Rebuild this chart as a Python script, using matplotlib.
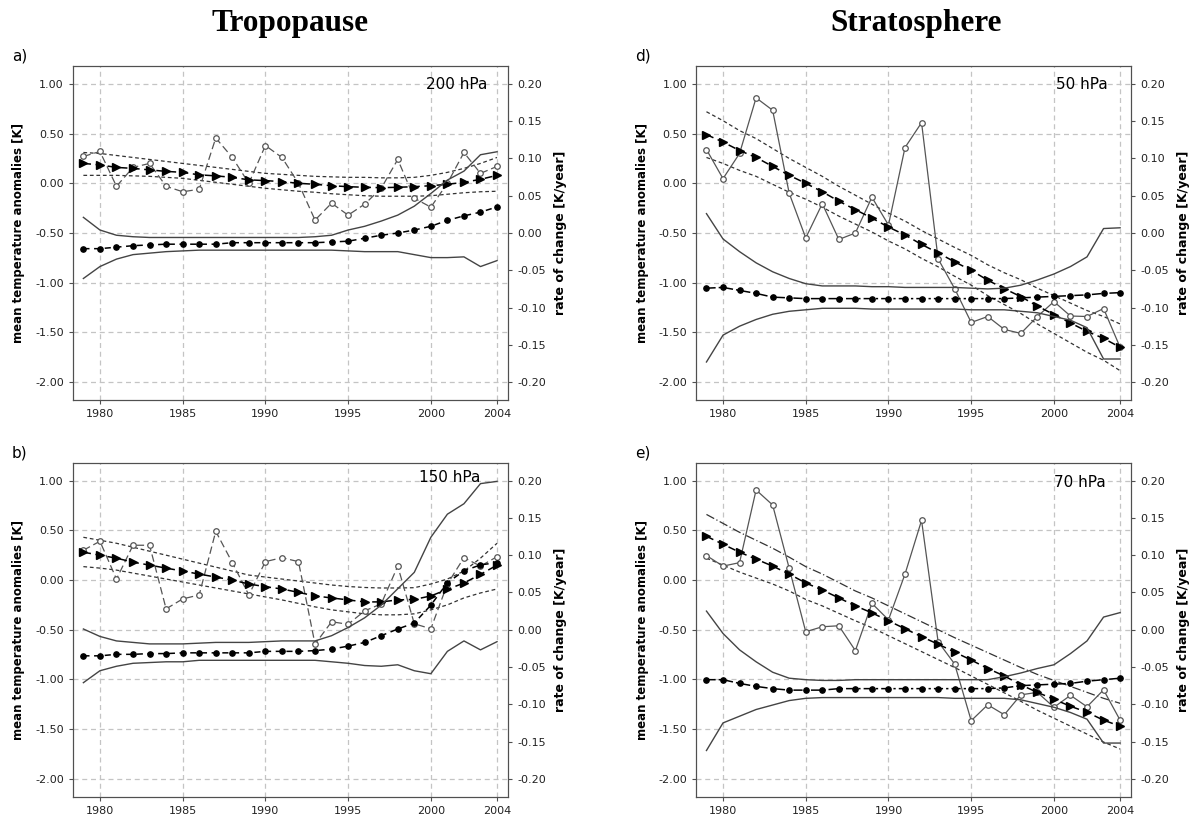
import matplotlib
matplotlib.use("Agg")
import matplotlib.pyplot as plt

plt.rcParams["font.family"] = ["DejaVu Sans"]
plt.rcParams["axes.unicode_minus"] = False

# ── Data ─────────────────────────────────────────────────────
YEARS = list(range(1979, 2005))

# a) 200 hPa
a_anom = [0.27, 0.32, -0.03, 0.16, 0.20, -0.03, -0.085, -0.06, 0.456, 0.26, 0.0, 0.38, 0.26,
          0.0, -0.37, -0.20, -0.32, -0.21, -0.05, 0.24, -0.15, -0.24, 0.0, 0.31, 0.10, 0.17]
a_trend = [0.20, 0.185, 0.16, 0.15, 0.135, 0.12, 0.11, 0.085, 0.075, 0.06, 0.035, 0.027, 0.017,
           0.0, -0.01, -0.024, -0.034, -0.04, -0.044, -0.04, -0.034, -0.024, -0.01, 0.01, 0.04, 0.08]
a_trend_hi = [0.31, 0.30, 0.28, 0.26, 0.24, 0.22, 0.20, 0.18, 0.16, 0.14, 0.12, 0.10, 0.09,
              0.08, 0.07, 0.065, 0.06, 0.06, 0.055, 0.055, 0.06, 0.08, 0.11, 0.15, 0.20, 0.26]
a_trend_lo = [0.08, 0.08, 0.08, 0.075, 0.07, 0.06, 0.05, 0.03, 0.01, -0.01, -0.03, -0.05, -0.065,
              -0.08, -0.09, -0.105, -0.115, -0.125, -0.13, -0.13, -0.13, -0.125, -0.11, -0.095, -0.085, -0.08]
a_rate = [-0.021, -0.021, -0.019, -0.017, -0.016, -0.015, -0.015, -0.015, -0.015, -0.013, -0.013, -0.013, -0.013,
          -0.013, -0.013, -0.012, -0.011, -0.007, -0.003, 0.000, 0.004, 0.009, 0.017, 0.023, 0.028, 0.035]
a_rate_hi = [0.021, 0.004, -0.003, -0.005, -0.006, -0.006, -0.006, -0.006, -0.006, -0.006, -0.006, -0.006, -0.006,
             -0.006, -0.005, -0.003, 0.004, 0.009, 0.016, 0.024, 0.036, 0.053, 0.071, 0.083, 0.105, 0.109]
a_rate_lo = [-0.061, -0.045, -0.035, -0.029, -0.027, -0.025, -0.024, -0.023, -0.023, -0.023, -0.023, -0.023, -0.023,
             -0.023, -0.023, -0.023, -0.024, -0.025, -0.025, -0.025, -0.029, -0.033, -0.033, -0.032, -0.045, -0.037]

# b) 150 hPa
b_anom = [0.30, 0.39, 0.01, 0.35, 0.35, -0.29, -0.19, -0.15, 0.49, 0.175, -0.15, 0.185, 0.225,
          0.185, -0.645, -0.42, -0.445, -0.31, -0.24, 0.14, -0.44, -0.49, -0.04, 0.225, 0.14, 0.235]
b_trend = [0.28, 0.25, 0.22, 0.18, 0.15, 0.12, 0.09, 0.06, 0.03, 0.0, -0.04, -0.067, -0.09,
           -0.124, -0.16, -0.18, -0.20, -0.22, -0.22, -0.20, -0.195, -0.16, -0.094, -0.03, 0.057, 0.15]
b_trend_hi = [0.43, 0.40, 0.37, 0.33, 0.29, 0.25, 0.21, 0.17, 0.13, 0.09, 0.05, 0.03, 0.01,
              -0.01, -0.03, -0.05, -0.065, -0.075, -0.08, -0.08, -0.077, -0.04, 0.01, 0.09, 0.22, 0.37]
b_trend_lo = [0.135, 0.12, 0.10, 0.07, 0.04, 0.01, -0.02, -0.05, -0.08, -0.11, -0.14, -0.17, -0.20,
              -0.235, -0.27, -0.30, -0.32, -0.34, -0.35, -0.35, -0.34, -0.30, -0.25, -0.18, -0.13, -0.09]
b_rate = [-0.035, -0.035, -0.033, -0.033, -0.032, -0.032, -0.031, -0.031, -0.031, -0.031, -0.031, -0.029, -0.029,
          -0.029, -0.028, -0.026, -0.022, -0.017, -0.008, 0.001, 0.009, 0.033, 0.063, 0.079, 0.087, 0.090]
b_rate_hi = [0.001, -0.009, -0.015, -0.017, -0.019, -0.019, -0.019, -0.018, -0.017, -0.017, -0.017, -0.016, -0.015,
             -0.015, -0.015, -0.008, 0.003, 0.016, 0.033, 0.055, 0.077, 0.124, 0.155, 0.169, 0.196, 0.199]
b_rate_lo = [-0.071, -0.055, -0.049, -0.045, -0.044, -0.043, -0.043, -0.041, -0.041, -0.041, -0.041, -0.041, -0.041,
             -0.041, -0.041, -0.043, -0.045, -0.048, -0.049, -0.047, -0.055, -0.059, -0.029, -0.015, -0.027, -0.016]

# d) 50 hPa
d_anom = [0.34, 0.047, 0.30, 0.86, 0.735, -0.10, -0.55, -0.205, -0.565, -0.50, -0.14, -0.42, 0.36,
          0.61, -0.76, -1.06, -1.40, -1.34, -1.47, -1.51, -1.34, -1.19, -1.335, -1.34, -1.26, -1.65]
d_trend = [0.49, 0.415, 0.33, 0.26, 0.17, 0.08, 0.0, -0.085, -0.18, -0.265, -0.35, -0.44, -0.52,
           -0.615, -0.70, -0.79, -0.875, -0.975, -1.06, -1.14, -1.235, -1.32, -1.405, -1.49, -1.56, -1.65]
d_trend_hi = [0.72, 0.63, 0.53, 0.45, 0.35, 0.25, 0.16, 0.07, -0.03, -0.12, -0.21, -0.30, -0.38,
              -0.475, -0.56, -0.645, -0.725, -0.82, -0.90, -0.97, -1.055, -1.13, -1.205, -1.28, -1.34, -1.415]
d_trend_lo = [0.26, 0.20, 0.13, 0.07, -0.01, -0.09, -0.16, -0.24, -0.33, -0.41, -0.49, -0.58, -0.66,
              -0.755, -0.84, -0.935, -1.025, -1.13, -1.22, -1.31, -1.415, -1.51, -1.605, -1.70, -1.78, -1.885]
d_rate = [-0.074, -0.073, -0.077, -0.081, -0.086, -0.087, -0.088, -0.088, -0.088, -0.088, -0.088, -0.088, -0.088,
          -0.088, -0.088, -0.088, -0.088, -0.088, -0.088, -0.087, -0.086, -0.085, -0.084, -0.083, -0.081, -0.080]
d_rate_hi = [0.026, -0.008, -0.025, -0.040, -0.052, -0.061, -0.068, -0.071, -0.071, -0.071, -0.072, -0.072, -0.073,
             -0.073, -0.073, -0.073, -0.074, -0.075, -0.074, -0.070, -0.063, -0.055, -0.045, -0.032, 0.006, 0.007]
d_rate_lo = [-0.173, -0.137, -0.125, -0.116, -0.109, -0.105, -0.103, -0.101, -0.101, -0.101, -0.102, -0.102, -0.102,
             -0.102, -0.102, -0.102, -0.103, -0.103, -0.103, -0.105, -0.107, -0.112, -0.117, -0.127, -0.169, -0.169]

# e) 70 hPa
e_anom = [0.246, 0.14, 0.175, 0.906, 0.755, 0.118, -0.52, -0.47, -0.46, -0.71, -0.235, -0.40, 0.06,
          0.60, -0.62, -0.845, -1.415, -1.255, -1.355, -1.155, -1.13, -1.28, -1.16, -1.275, -1.105, -1.41]
e_trend = [0.44, 0.36, 0.28, 0.21, 0.14, 0.06, -0.03, -0.10, -0.18, -0.26, -0.33, -0.41, -0.49,
           -0.57, -0.645, -0.725, -0.805, -0.89, -0.965, -1.055, -1.13, -1.20, -1.27, -1.33, -1.41, -1.47]
e_trend_hi = [0.66, 0.57, 0.48, 0.40, 0.32, 0.23, 0.135, 0.06, -0.025, -0.11, -0.18, -0.26, -0.34,
              -0.42, -0.50, -0.58, -0.655, -0.73, -0.805, -0.88, -0.95, -1.01, -1.07, -1.13, -1.19, -1.24]
e_trend_lo = [0.22, 0.15, 0.08, 0.02, -0.04, -0.11, -0.195, -0.26, -0.335, -0.41, -0.48, -0.56, -0.64,
              -0.72, -0.80, -0.88, -0.965, -1.05, -1.135, -1.22, -1.31, -1.39, -1.47, -1.55, -1.63, -1.70]
e_rate = [-0.067, -0.067, -0.072, -0.076, -0.079, -0.081, -0.081, -0.081, -0.079, -0.079, -0.079, -0.079, -0.079,
          -0.079, -0.079, -0.079, -0.079, -0.079, -0.078, -0.075, -0.074, -0.073, -0.072, -0.069, -0.067, -0.065]
e_rate_hi = [0.025, -0.005, -0.027, -0.043, -0.057, -0.065, -0.067, -0.068, -0.068, -0.067, -0.067, -0.067, -0.067,
             -0.067, -0.067, -0.067, -0.067, -0.067, -0.063, -0.058, -0.052, -0.047, -0.032, -0.015, 0.017, 0.023]
e_rate_lo = [-0.162, -0.125, -0.116, -0.107, -0.101, -0.095, -0.092, -0.091, -0.091, -0.091, -0.091, -0.091, -0.091,
             -0.091, -0.091, -0.092, -0.092, -0.092, -0.092, -0.094, -0.099, -0.104, -0.111, -0.120, -0.152, -0.152]

X_TICKS = [1980, 1985, 1990, 1995, 2000, 2004]
Y_TICKS = [1.0, 0.5, 0.0, -0.5, -1.0, -1.5, -2.0]
R_TICKS = [0.20, 0.15, 0.10, 0.05, 0.0, -0.05, -0.10, -0.15, -0.20]

# ── Style ────────────────────────────────────────────────────
XLIM = (1978.37, 2004.66)
YLIM = (-2.18, 1.18)
GRID = "#c4c4c4"
SPINE = "#505050"


def to_rate(v):
    # left axis 1.00 <-> 0.20, -2.00 <-> -0.20
    return (v + 0.5) / 7.5


def draw_panel(rect, letter, level, anom, trend, t_hi, t_lo, rate, r_hi, r_lo,
               strat, lx, ly):
    ax = fig.add_axes(rect)
    ax.set_xlim(*XLIM)
    ax.set_ylim(*YLIM)
    ax.set_xticks(X_TICKS)
    ax.set_yticks(Y_TICKS)
    ax.set_yticklabels([f"{v:.2f}" for v in Y_TICKS])
    ax.grid(True, color=GRID, linestyle=(0, (4, 3)), linewidth=0.9)
    ax.set_axisbelow(True)
    for s in ax.spines.values():
        s.set_color(SPINE)
    ax.tick_params(labelsize=8, length=3, color=SPINE, labelcolor="#222222")
    ax.set_ylabel("mean temperature anomalies [K]", fontsize=8.5,
                  fontweight="bold", labelpad=7)

    # confidence band of trend
    bstyle = (0, (3, 2.2))
    ax.plot(YEARS, t_hi, color="#333333", lw=0.9,
            ls=(0, (7, 2, 1, 2)) if letter == "e" else bstyle)
    ax.plot(YEARS, t_lo, color="#333333", lw=0.9, ls=bstyle)

    # annual anomalies
    ax.plot(YEARS, anom, color="#555555", lw=0.9,
            ls="-" if strat else (0, (6, 3)),
            marker="o", ms=4, mfc="white", mec="#555555", mew=0.9, zorder=3)

    # trend
    ax.plot(YEARS, trend, color="black", lw=1.1, ls=(0, (5, 3)),
            marker=">", ms=5.5, mfc="black", mec="black", zorder=4)

    # rate of change on right axis
    ax2 = ax.twinx()
    ax2.set_ylim(to_rate(YLIM[0]), to_rate(YLIM[1]))
    ax2.set_yticks(R_TICKS)
    ax2.set_yticklabels([f"{v:.2f}" for v in R_TICKS])
    ax2.tick_params(labelsize=8, length=3, color=SPINE, labelcolor="#222222")
    for s in ax2.spines.values():
        s.set_color(SPINE)
    ax2.plot(YEARS, r_hi, color="#444444", lw=1.0)
    ax2.plot(YEARS, r_lo, color="#444444", lw=1.0)
    ax2.plot(YEARS, rate, color="black", lw=1.1,
             ls=(0, (6, 2, 1.5, 2)) if strat else (0, (4, 3)),
             marker="o", ms=3.8, mfc="black", mec="black", zorder=4)
    ax2.set_ylabel("rate of change [K/year]", fontsize=9,
                   fontweight="bold", labelpad=6)

    ax.text(lx, ly, level, transform=ax.transAxes, fontsize=11,
            ha="right", va="center")
    fig.text(rect[0] - 0.051, rect[1] + rect[3] + 0.012, letter + ")",
             fontsize=11, ha="left", va="center")
    return ax


fig = plt.figure(figsize=(11.98, 8.18), dpi=100)

W, H = 0.3631, 0.4083
draw_panel([0.0609, 0.511, W, H], "a", "200 hPa", a_anom, a_trend, a_trend_hi, a_trend_lo,
           a_rate, a_rate_hi, a_rate_lo, False, 0.952, 0.946)
draw_panel([0.0609, 0.026, W, H], "b", "150 hPa", b_anom, b_trend, b_trend_hi, b_trend_lo,
           b_rate, b_rate_hi, b_rate_lo, False, 0.936, 0.957)
draw_panel([0.581, 0.511, W, H], "d", "50 hPa", d_anom, d_trend, d_trend_hi, d_trend_lo,
           d_rate, d_rate_hi, d_rate_lo, True, 0.947, 0.946)
draw_panel([0.581, 0.026, W, H], "e", "70 hPa", e_anom, e_trend, e_trend_hi, e_trend_lo,
           e_rate, e_rate_hi, e_rate_lo, True, 0.943, 0.94)

fig.text(290 / 1198, 1 - 24 / 818, "Tropopause", fontsize=22.5, fontweight="bold",
         family=["Liberation Serif", "DejaVu Serif"], ha="center", va="center")
fig.text(916 / 1198, 1 - 24 / 818, "Stratosphere", fontsize=22.5, fontweight="bold",
         family=["Liberation Serif", "DejaVu Serif"], ha="center", va="center")

fig.savefig("out.png", dpi=100)
